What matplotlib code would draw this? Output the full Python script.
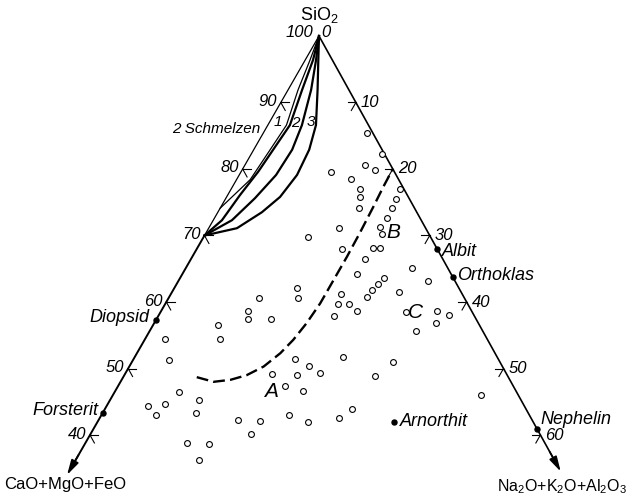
import numpy as np
import matplotlib.pyplot as plt

plt.rcParams['font.family'] = ['Liberation Sans', 'DejaVu Sans']
plt.rcParams['mathtext.fontset'] = 'custom'
plt.rcParams['mathtext.rm'] = 'Liberation Sans'
plt.rcParams['mathtext.it'] = 'Liberation Sans:italic'

# rock analyses: SiO2 % and Na2O+K2O+Al2O3 %, CaO+MgO+FeO is the rest
rock_sio2 = [85.4, 82.2, 80.6, 79.8, 79.5, 78.5, 77.0, 75.8, 74.2, 77.0,
             75.5, 74.2, 72.6, 71.1, 69.7, 71.3, 70.2, 67.9, 68.1, 68.1,
             66.4, 64.2, 65.1, 63.1, 63.6, 62.7, 61.8, 60.8, 61.5, 61.2,
             59.7, 59.7, 58.7, 57.9, 62.1, 60.6, 60.6, 58.7, 57.5, 57.4,
             56.6, 54.5, 54.5, 51.3, 58.5, 58.7, 58.0, 56.8, 55.7, 51.8,
             51.0, 51.5, 50.4, 49.3, 49.2, 49.0, 48.9, 47.4, 46.6, 46.5,
             45.2, 44.6, 43.0, 43.3, 42.3, 42.1, 43.0, 42.0, 42.6, 43.9,
             40.2, 38.8, 38.6, 46.0, 44.4, 36.2]
rock_alk = [13.8, 17.5, 16.0, 17.7, 12.0, 15.2, 17.1, 17.7, 18.4, 22.5,
            22.7, 22.9, 23.0, 17.3, 14.0, 22.7, 23.6, 19.4, 23.4, 24.3,
            23.2, 23.2, 30.1, 33.3, 27.2, 26.8, 26.5, 26.3, 30.2, 22.6,
            23.0, 24.5, 26.0, 23.4, 16.3, 17.2, 12.1, 11.5, 12.2, 15.2,
            8.6, 9.9, 2.6, 4.8, 32.7, 36.7, 38.7, 37.5, 35.5, 27.7,
            34.8, 21.5, 23.9, 25.9, 19.6, 23.0, 33.4, 22.2, 25.0, 8.6,
            11.9, 7.6, 7.3, 12.5, 18.5, 21.6, 25.0, 28.0, 31.9, 32.9,
            21.4, 13.6, 16.6, 49.1, 5.5, 16.5]

minerals = ['Diopsid', 'Forsterit', 'Albit', 'Orthoklas', 'Nephelin', 'Arnorthit']
min_sio2 = [57.3, 43.3, 68.0, 63.8, 40.9, 42.0]
min_alk = [0.0, 0.0, 32.0, 36.2, 59.1, 39.5]

# dashed boundary
dash_sio2 = [48.7, 48.0, 48.3, 49.0, 50.3, 52.3, 54.3, 56.8, 59.8, 63.3, 66.8, 70.3, 74.3, 77.3, 80.0]
dash_alk = [9.8, 12.4, 14.5, 16.3, 17.9, 19.1, 19.8, 20.3, 20.6, 20.6, 20.6, 20.5, 20.3, 20.1, 20.0]

# curves near SiO2 corner
schm_sio2 = [100, 96.4, 91.9, 86.6, 82.9, 78.4, 74.1]
schm_alk = [0, 0.64, 1.33, 2.48, 2.19, 1.82, 0]
c1_sio2 = [100, 96.4, 91.9, 86.6, 82.9, 79.6, 76.1, 72.3, 70]
c1_alk = [0, 1.04, 1.87, 2.94, 2.59, 2.28, 1.64, 1.16, 0]
c2_sio2 = [100, 96.4, 91.9, 86.6, 82.9, 79.1, 75.6, 72.3, 70]
c2_alk = [0, 1.44, 3.07, 4.54, 5.12, 4.91, 3.87, 2.49, 0]
c3_sio2 = [100, 96.4, 91.9, 86.6, 82.9, 79.1, 75.8, 73.5, 71.1, 70]
c3_alk = [0, 1.74, 3.93, 6.41, 7.39, 7.70, 7.12, 5.87, 3.77, 0]

left_ticks = [90, 80, 70, 60, 50, 40]     # SiO2 %
right_ticks = [10, 20, 30, 40, 50, 60]    # alkali %


def proj(sio2, alk):
    sio2 = np.asarray(sio2, float)
    alk = np.asarray(alk, float)
    cao = 100 - sio2 - alk
    return 0.555 * alk - 0.574 * cao, sio2 - 100


fig = plt.figure(figsize=(6.31, 4.97), dpi=100)
ax = fig.add_axes([0, 0, 1, 1])
ax.set_xlim(-47.97, 46.92)
ax.set_ylim(-69.32, 5.41)
ax.axis('off')

# edges
x, y = proj([100, 70], [0, 0])
ax.plot(x, y, 'k-', lw=0.9)
x, y = proj([70, 35.5], [0, 0])
ax.plot(x, y, 'k-', lw=1.4)
x, y = proj([100, 35.5], [0, 64.5])
ax.plot(x, y, 'k-', lw=1.2)
for s0, a0, s1, a1 in [(37, 0, 34, 0), (37.5, 62.5, 34.5, 65.5)]:
    p0 = proj(s0, a0)
    p1 = proj(s1, a1)
    ax.annotate('', xy=(float(p1[0]), float(p1[1])), xytext=(float(p0[0]), float(p0[1])),
                arrowprops=dict(arrowstyle='-|>,head_length=0.75,head_width=0.2',
                                color='k', lw=1.2, mutation_scale=12, shrinkA=0, shrinkB=0))

# ticks
for v in left_ticks:
    for s1, a1 in [(v, 1.1), (v - 1.2, 1.2)]:
        x, y = proj([v, s1], [0, a1])
        ax.plot(x, y, 'k-', lw=0.8)
    px, py = proj(v, 0)
    ax.annotate(str(v), (px, py), xytext=(-4, 1), textcoords='offset pixels',
                ha='right', va='center', fontsize=12, style='italic')
for v in right_ticks:
    for s1, a1 in [(100 - v, v - 1.1), (100 - v - 1.2, v)]:
        x, y = proj([100 - v, s1], [v, a1])
        ax.plot(x, y, 'k-', lw=0.8)
    px, py = proj(100 - v, v)
    ax.annotate(str(v), (px, py), xytext=(5, 0), textcoords='offset pixels',
                ha='left', va='center', fontsize=12, style='italic')

px, py = proj(100, 0)
ax.annotate('100', (px, py), xytext=(-6, 3), textcoords='offset pixels',
            ha='right', va='center', fontsize=12, style='italic')
ax.annotate('0', (px, py), xytext=(2, 3), textcoords='offset pixels',
            ha='left', va='center', fontsize=12, style='italic')
ax.annotate('SiO$_2$', (px, py), xytext=(0, 21), textcoords='offset pixels',
            ha='center', va='center', fontsize=13)

# corner curves
x, y = proj(schm_sio2, schm_alk)
ax.plot(x, y, 'k-', lw=0.9)
for cs, ca in [(c1_sio2, c1_alk), (c2_sio2, c2_alk), (c3_sio2, c3_alk)]:
    x, y = proj(cs, ca)
    ax.plot(x, y, 'k-', lw=1.6, solid_joinstyle='round')
for lab, s0, a0 in [('1', 87.1, 1.1), ('2', 86.9, 3.5), ('3', 87.1, 5.5)]:
    px, py = proj(s0, a0)
    ax.text(px, py, lab, ha='center', va='center', fontsize=11, style='italic')
px, py = proj(86, 0)
ax.annotate('2 Schmelzen', (px, py), xytext=(-5, 0), textcoords='offset pixels',
            ha='right', va='center', fontsize=11, style='italic')

# dashed boundary
x, y = proj(dash_sio2, dash_alk)
ax.plot(x, y, 'k-', lw=1.7, dashes=(5, 2.2))

# rock analyses
x, y = proj(rock_sio2, rock_alk)
ax.plot(x, y, 'o', ms=4.2, mfc='white', mec='k', mew=0.8, ls='none')

# minerals
x, y = proj(min_sio2, min_alk)
ax.plot(x, y, 'o', ms=3.6, color='k', ls='none')
offsets = {'Diopsid': (-7, 2, 'right'), 'Forsterit': (-4, 3, 'right'),
           'Albit': (5, -3, 'left'), 'Orthoklas': (4, 1, 'left'),
           'Nephelin': (3, 10, 'left'), 'Arnorthit': (6, 0, 'left')}
for name, px, py in zip(minerals, x, y):
    dx, dy, ha = offsets[name]
    ax.annotate(name, (px, py), xytext=(dx, dy), textcoords='offset pixels',
                ha=ha, va='center', fontsize=13, style='italic')

# field letters
for lab, s0, a0 in [('A', 46.6, 20.8), ('B', 70.4, 24.9), ('C', 58.4, 34.0)]:
    px, py = proj(s0, a0)
    ax.text(px, py, lab, ha='center', va='center', fontsize=15, style='italic')

# corner names
px, py = proj(34, 0)
ax.annotate('CaO+MgO+FeO', (px, py), xytext=(-2, -10), textcoords='offset pixels',
            ha='center', va='center', fontsize=12)
px, py = proj(34.5, 65.5)
ax.annotate('Na$_2$O+K$_2$O+Al$_2$O$_3$', (px, py), xytext=(66, -15), textcoords='offset pixels',
            ha='right', va='center', fontsize=11.5)

fig.savefig('out.png', dpi=100)
plt.close(fig)
